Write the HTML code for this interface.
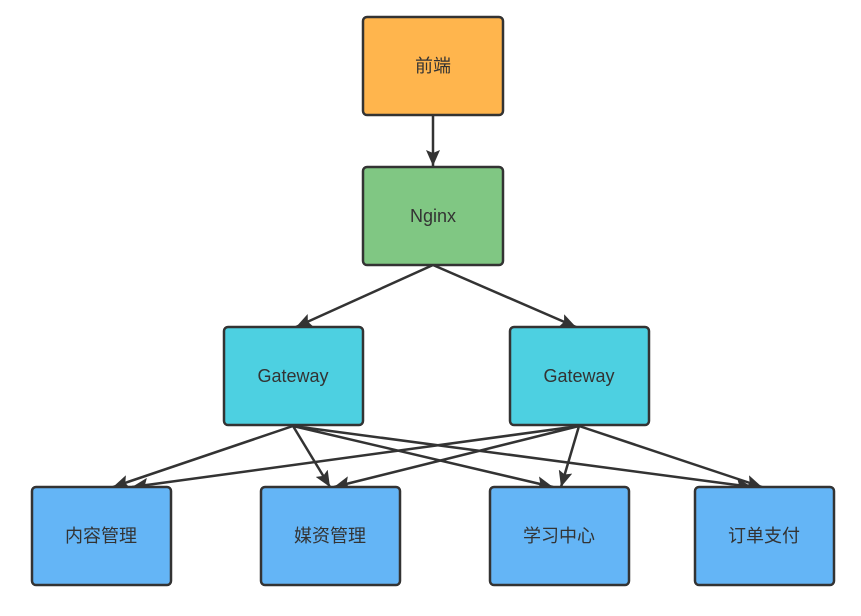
<!DOCTYPE html>
<html><head><meta charset="utf-8"><style>
body{margin:0;background:#fff;}
svg text{font-family:"Liberation Sans","Noto Sans CJK SC",sans-serif;font-size:18px;fill:#333;text-anchor:middle;dominant-baseline:central;}
</style></head><body>
<svg width="861" height="611" viewBox="0 0 861 611" xmlns="http://www.w3.org/2000/svg">
<defs><marker id="a" markerWidth="16" markerHeight="14" refX="16" refY="7" orient="auto" markerUnits="userSpaceOnUse" viewBox="0 0 16 14"><path d="M0,0 L16,7 L0,14 L3,7 z" fill="#333"/></marker>
</defs>
<g stroke="#333" stroke-width="2.5" fill="none" marker-end="url(#a)">
<line x1="433" y1="115" x2="433" y2="166"/>
<line x1="433" y1="265" x2="296" y2="327"/>
<line x1="433" y1="265" x2="576" y2="327"/>
<line x1="293" y1="426" x2="113" y2="487"/>
<line x1="293" y1="426" x2="330" y2="487"/>
<line x1="293" y1="426" x2="553" y2="487"/>
<line x1="293" y1="426" x2="752" y2="487"/>
<line x1="579" y1="426" x2="132" y2="487"/>
<line x1="579" y1="426" x2="334" y2="487"/>
<line x1="579" y1="426" x2="561" y2="487"/>
<line x1="579" y1="426" x2="762" y2="487"/>
</g>
<g stroke="#333" stroke-width="2.5">
<rect x="363" y="17" width="140" height="98" rx="4" fill="#FFB54D"/>
<rect x="363" y="167" width="140" height="98" rx="4" fill="#80C783"/>
<rect x="224" y="327" width="139" height="98" rx="4" fill="#4DD0E1"/>
<rect x="510" y="327" width="139" height="98" rx="4" fill="#4DD0E1"/>
<rect x="32" y="487" width="139" height="98" rx="4" fill="#64B5F6"/>
<rect x="261" y="487" width="139" height="98" rx="4" fill="#64B5F6"/>
<rect x="490" y="487" width="139" height="98" rx="4" fill="#64B5F6"/>
<rect x="695" y="487" width="139" height="98" rx="4" fill="#64B5F6"/>
</g>
<text x="433" y="66">前端</text>
<text x="433" y="216">Nginx</text>
<text x="293" y="376">Gateway</text>
<text x="579" y="376">Gateway</text>
<text x="101" y="536">内容管理</text>
<text x="330" y="536">媒资管理</text>
<text x="559" y="536">学习中心</text>
<text x="764" y="536">订单支付</text>
</svg>
</body></html>
